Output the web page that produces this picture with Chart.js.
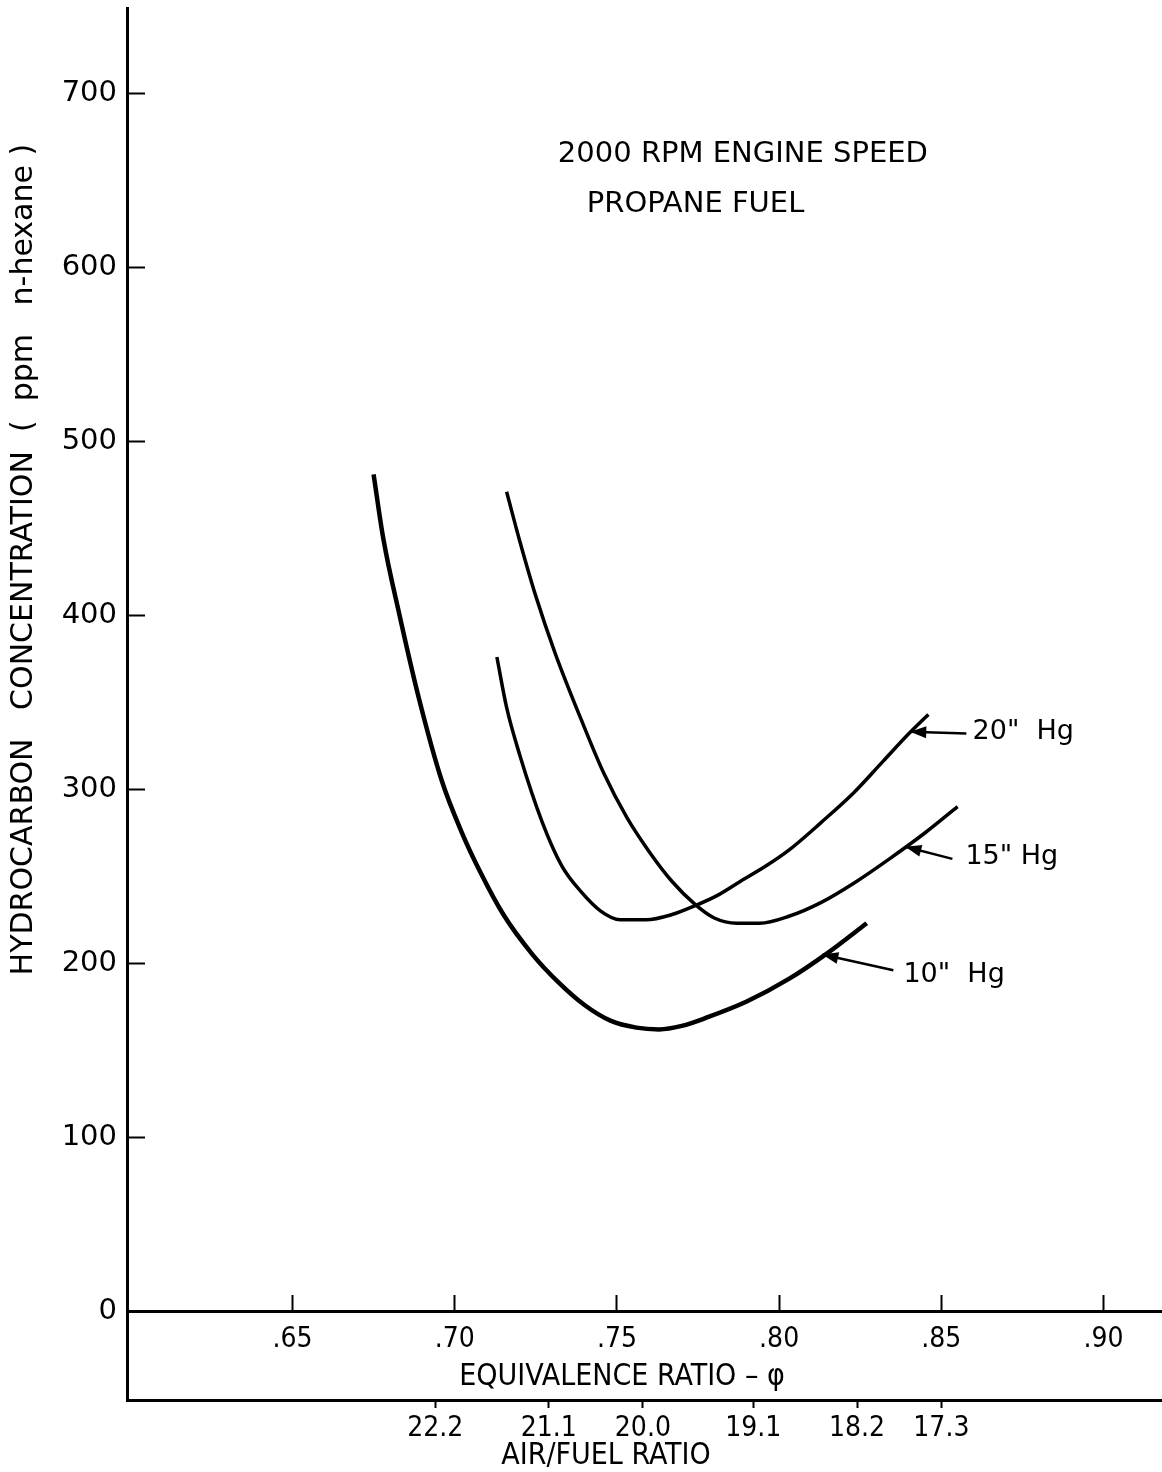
<!DOCTYPE html>
<html>
<head>
<meta charset="utf-8">
<script src="https://cdn.jsdelivr.net/npm/chart.js@4.4.1/dist/chart.umd.min.js"></script>
<style>
  html, body { margin: 0; padding: 0; background: #fff; }
  #wrap { width: 1162px; height: 1472px; }
</style>
</head>
<body>
<div id="wrap"><canvas id="hcChart" width="1162" height="1472"></canvas></div>
<script>
// curves: equivalence ratio (phi) vs HC ppm
const phi10 = [0.675, 0.678, 0.683, 0.689, 0.696, 0.702, 0.708, 0.715, 0.724, 0.732, 0.740, 0.748, 0.756, 0.763, 0.770, 0.778, 0.790, 0.803, 0.815, 0.827];
const hc10  = [481, 444, 400, 352, 305, 276, 252, 228, 205, 189, 176, 167, 163, 162, 164, 169, 178, 191, 206, 223];

const phi15 = [0.716, 0.720, 0.725, 0.731, 0.739, 0.746, 0.753, 0.760, 0.767, 0.774, 0.780, 0.787, 0.794, 0.803, 0.813, 0.823, 0.834, 0.845, 0.855];
const hc15  = [471, 443, 411, 378, 340, 309, 284, 264, 247, 234, 226, 223, 223, 227, 235, 246, 260, 275, 290];

const phi20 = [0.713, 0.716, 0.720, 0.727, 0.733, 0.739, 0.745, 0.751, 0.759, 0.767, 0.774, 0.781, 0.788, 0.796, 0.803, 0.813, 0.823, 0.832, 0.840, 0.846];
const hc20  = [376, 347, 320, 281, 256, 241, 230, 225, 225, 228, 233, 239, 247, 256, 265, 281, 298, 316, 332, 343];

const seriesNames = ['10" Hg', '15" Hg', '20" Hg'];

// axes
const yTicks = [0, 100, 200, 300, 400, 500, 600, 700];
const phiTicks = [0.65, 0.70, 0.75, 0.80, 0.85, 0.90];
const phiTickLabels = ['.65', '.70', '.75', '.80', '.85', '.90'];
const afTickPos = [0.694, 0.729, 0.758, 0.792, 0.824, 0.850];
const afTickLabels = ['22.2', '21.1', '20.0', '19.1', '18.2', '17.3'];

const narrow = '"Liberation Sans Narrow", "DejaVu Sans Condensed", "DejaVu Sans", sans-serif';
const plain = '"DejaVu Sans", sans-serif';

function toPoints(xs, ys) {
    return xs.map((v, i) => ({ x: v, y: ys[i] }));
}

// no extra room for labels hanging over the axis ends
function noPad(s) {
    s.paddingTop = 0;
    s.paddingBottom = 0;
    s.paddingLeft = 0;
    s.paddingRight = 0;
}

// text + arrows drawn on top
const notes = {
    id: 'notes',
    afterDraw(chart) {
        const ctx = chart.ctx;
        const x = chart.scales.x, y = chart.scales.y;
        ctx.save();
        ctx.fillStyle = '#000';
        ctx.strokeStyle = '#000';

        // y axis title
        ctx.save();
        ctx.translate(24, y.getPixelForValue(432));
        ctx.rotate(-Math.PI / 2);
        ctx.font = '30px ' + plain;
        ctx.textAlign = 'center';
        ctx.textBaseline = 'middle';
        ctx.fillText('HYDROCARBON   CONCENTRATION  (  ppm   n-hexane )', 0, 0);
        ctx.restore();

        // header text
        ctx.font = '29px ' + plain;
        ctx.textAlign = 'left';
        ctx.textBaseline = 'middle';
        ctx.fillText('2000 RPM ENGINE SPEED', x.getPixelForValue(0.7318), y.getPixelForValue(665));
        ctx.fillText('PROPANE FUEL', x.getPixelForValue(0.7407), y.getPixelForValue(636));

        // curve labels with arrows
        const tags = [
            { text: '20"  Hg', tx: 0.8596, ty: 333, from: [0.8577, 332], to: [0.8404, 333] },
            { text: '15" Hg',  tx: 0.8574, ty: 261, from: [0.8534, 260], to: [0.8389, 267] },
            { text: '10"  Hg', tx: 0.8383, ty: 193, from: [0.8352, 196], to: [0.8133, 205] }
        ];
        ctx.font = '27px ' + plain;
        tags.forEach(t => {
            ctx.fillText(t.text, x.getPixelForValue(t.tx), y.getPixelForValue(t.ty));
            const x1 = x.getPixelForValue(t.from[0]), y1 = y.getPixelForValue(t.from[1]);
            const x2 = x.getPixelForValue(t.to[0]), y2 = y.getPixelForValue(t.to[1]);
            ctx.lineWidth = 2.5;
            ctx.beginPath();
            ctx.moveTo(x1, y1);
            ctx.lineTo(x2, y2);
            ctx.stroke();
            const a = Math.atan2(y2 - y1, x2 - x1);
            ctx.beginPath();
            ctx.moveTo(x2, y2);
            ctx.lineTo(x2 - 16 * Math.cos(a) + 6 * Math.sin(a), y2 - 16 * Math.sin(a) - 6 * Math.cos(a));
            ctx.lineTo(x2 - 16 * Math.cos(a) - 6 * Math.sin(a), y2 - 16 * Math.sin(a) + 6 * Math.cos(a));
            ctx.closePath();
            ctx.fill();
        });

        // axis titles
        const zero = y.getPixelForValue(0);
        ctx.font = '30px ' + narrow;
        ctx.textAlign = 'center';
        ctx.fillText('EQUIVALENCE RATIO \u2013 \u03c6', 622, zero + 66);
        ctx.fillText('AIR/FUEL RATIO', 606, chart.chartArea.bottom + 56);
        ctx.restore();
    }
};

const ctx = document.getElementById('hcChart').getContext('2d');
new Chart(ctx, {
    type: 'scatter',
    data: {
        datasets: [
            { label: seriesNames[0], data: toPoints(phi10, hc10), borderWidth: 4.5 },
            { label: seriesNames[1], data: toPoints(phi15, hc15), borderWidth: 3.5 },
            { label: seriesNames[2], data: toPoints(phi20, hc20), borderWidth: 3.5 }
        ].map(d => Object.assign(d, {
            showLine: true,
            borderColor: '#000',
            pointRadius: 0,
            cubicInterpolationMode: 'monotone',
            xAxisID: 'x',
            yAxisID: 'y'
        }))
    },
    options: {
        responsive: false,
        animation: false,
        devicePixelRatio: 1,
        layout: { padding: { top: 8, left: 0, right: 0, bottom: 0 } },
        plugins: {
            legend: { display: false },
            tooltip: { enabled: false }
        },
        scales: {
            x: {
                type: 'linear',
                axis: 'x',
                min: 0.599,
                max: 0.918,
                position: { y: 0 },
                afterBuildTicks: s => { s.ticks = phiTicks.map(v => ({ value: v })); },
                afterFit: noPad,
                ticks: {
                    autoSkip: false,
                    maxRotation: 0,
                    color: '#000',
                    padding: 30,
                    font: { family: narrow, size: 28 },
                    callback: (v, i) => phiTickLabels[i]
                },
                grid: { drawOnChartArea: false, tickLength: -18, tickWidth: 2, tickColor: '#000' },
                border: { color: '#000', width: 3 }
            },
            x2: {
                type: 'linear',
                axis: 'x',
                min: 0.599,
                max: 0.918,
                position: 'bottom',
                afterBuildTicks: s => { s.ticks = afTickPos.map(v => ({ value: v })); },
                afterFit: s => { noPad(s); s.height = 72; },
                ticks: {
                    autoSkip: false,
                    maxRotation: 0,
                    color: '#000',
                    padding: 4,
                    font: { family: narrow, size: 28 },
                    callback: (v, i) => afTickLabels[i]
                },
                grid: { drawOnChartArea: false, tickLength: 8, tickWidth: 2, tickColor: '#000' },
                border: { color: '#000', width: 3 }
            },
            y: {
                type: 'linear',
                position: 'left',
                min: -51,
                max: 749,
                afterBuildTicks: s => { s.ticks = yTicks.map(v => ({ value: v })); },
                afterFit: s => { noPad(s); s.width = 127; },
                ticks: {
                    color: '#000',
                    padding: 28,
                    font: { family: plain, size: 29 },
                    callback: v => String(v)
                },
                grid: { drawOnChartArea: false, tickLength: -18, tickWidth: 2, tickColor: '#000' },
                border: { color: '#000', width: 3 }
            }
        }
    },
    plugins: [notes]
});
</script>
</body>
</html>
